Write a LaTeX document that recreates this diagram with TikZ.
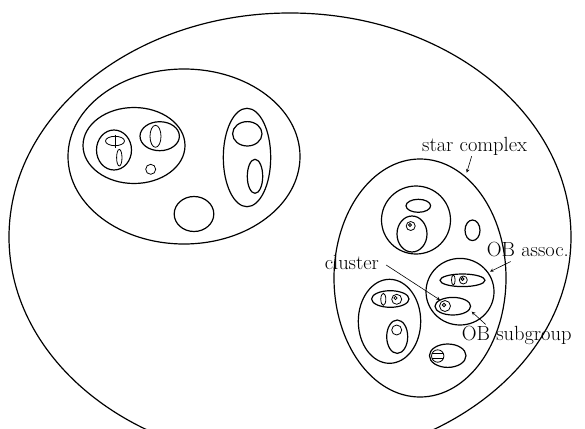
\documentclass[tikz,border=0pt]{standalone}
\usepackage{tikz}
\usetikzlibrary{positioning}
\tikzset{
  ring/.style={line width=1.2pt},
  speck/.style={line width=0.8pt},
  lbl/.style={font=\fontsize{20.5}{24}\selectfont, inner sep=1pt, anchor=base west},
  pointer/.style={->, >=stealth, line width=0.6pt}
}
\begin{document}
\begin{tikzpicture}[x=1pt,y=-1pt]
\useasboundingbox (0,0) rectangle (585,428);
\clip (0,0) rectangle (585,428);
% galaxy
\draw[ring] (290,237) ellipse (281 and 224);
% left complex
\draw[ring] (184,156.5) ellipse (116 and 87.5);
\draw[ring] (134,145.5) ellipse (51 and 38);
\draw[ring] (114,150) ellipse (17.5 and 20);
\draw[speck] (115,141) ellipse (9.5 and 4.7);
\draw[speck] (115,134.5) -- (115,147.5);
\draw[speck] (119.3,157.7) ellipse (2.7 and 8.3);
\draw[ring] (159.7,136.2) ellipse (19.7 and 14.5);
\draw[speck] (155.5,136.3) ellipse (5.5 and 11);
\draw[speck] (150.7,169.3) circle (5);
\draw[ring] (247,157.5) ellipse (23.7 and 49.2);
\draw[ring] (247.3,133.8) ellipse (14.7 and 12.2);
\draw[ring] (255,176.3) ellipse (7.7 and 17);
\draw[ring] (194,214) ellipse (19.8 and 17.5);
% star complex on the right
\draw[ring] (420,278) ellipse (86 and 119);
\draw[ring] (416,220) ellipse (34.5 and 34);
\draw[ring] (418.3,205.8) ellipse (12.3 and 6.5);
\draw[ring] (412,234) ellipse (15 and 18);
\draw[speck] (410.7,226) circle (4.5);
\draw[speck] (410,225) circle (1.5);
\draw[ring] (472.5,230.3) ellipse (7.5 and 10.3);
% OB association
\draw[ring] (460,291.7) ellipse (34 and 33.3);
\draw[ring] (462.5,280.3) ellipse (22.5 and 6.3);
\draw[speck] (453.3,280) ellipse (1.8 and 5);
\draw[speck] (463.3,280) circle (4);
\draw[speck] (462.5,279) circle (1.5);
\draw[ring] (452.8,306.2) ellipse (17.8 and 8.8);
\draw[speck] (445,306) circle (5.5);
\draw[speck] (444,305) circle (1.8);
\draw[ring] (389.5,321.3) ellipse (31.2 and 42);
\draw[ring] (390.3,299) ellipse (18.7 and 8.3);
\draw[speck] (383.3,299.3) ellipse (2.5 and 6);
\draw[speck] (396.7,299.3) circle (5);
\draw[speck] (395.5,298) circle (1.6);
\draw[ring] (397.2,336.7) ellipse (10.5 and 16.7);
\draw[speck] (396.7,330) circle (5);
\draw[ring] (447.7,355.7) ellipse (18.3 and 11.7);
\draw[speck] (437.7,356) circle (6.2);
\foreach \yy in {353.5,358.5} {\draw[speck] (432.3,\yy) -- (443.1,\yy);}
% labels and pointers
\node[lbl] (star) at (421,151) {star complex};
\node[lbl] (assoc) at (485.7,256) {OB assoc.};
\node[lbl] (clus) at (323.6,269) {cluster};
\node[lbl] (subg) at (460.7,340) {OB subgroup};
\coordinate (sctip) at (466.7,172.7);
\coordinate (assoctip) at (490,271.7);
\coordinate (clustip) at (440,300);
\coordinate (subgtip) at (471.7,311.7);
\draw[pointer] ([xshift=-3pt]star.south) -- (sctip);
\draw[pointer] ([xshift=25pt,yshift=-4pt]assoc.south west) -- (assoctip);
\draw[pointer] ([xshift=6pt,yshift=-3pt]clus.east) -- (clustip);
\draw[pointer] ([xshift=25pt]subg.north west) -- (subgtip);
\end{tikzpicture}
\end{document}
